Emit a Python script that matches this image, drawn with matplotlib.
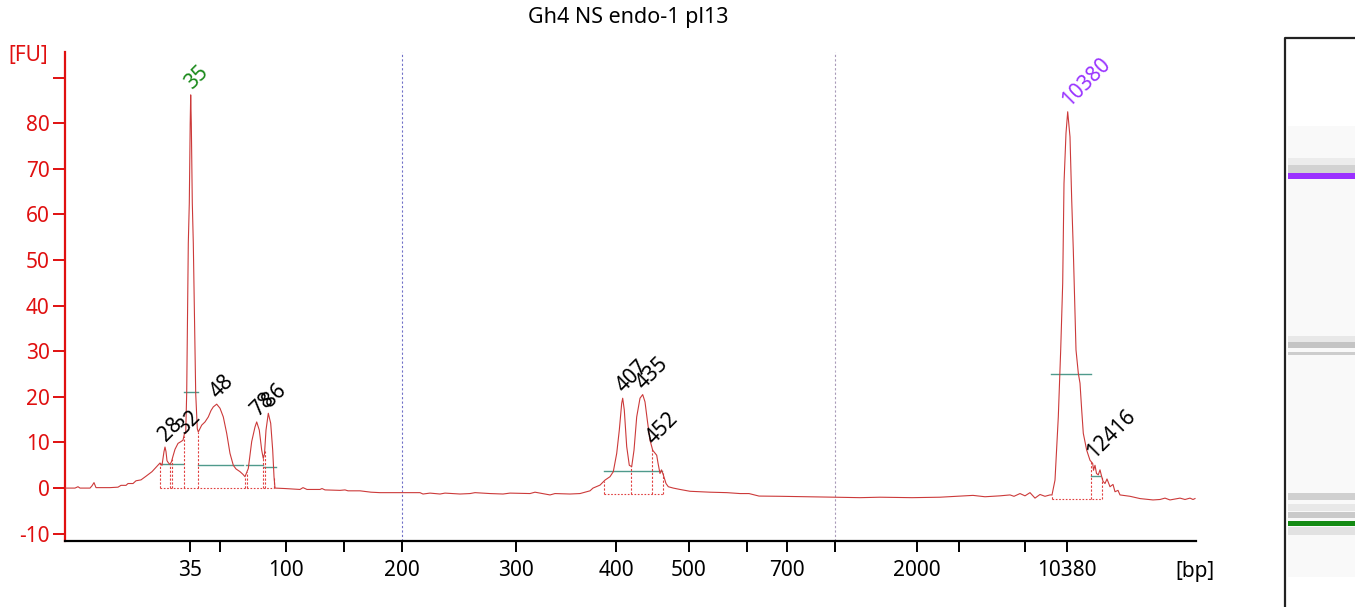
import numpy as np
import matplotlib
matplotlib.use("Agg")
import matplotlib.pyplot as plt

plt.rcParams["font.family"] = ["Noto Sans", "DejaVu Sans"]

TITLE = "Gh4 NS endo-1 pl13"

# migration position (run units) and fluorescence [FU]
mig = [65, 75, 78, 80, 90, 92, 94, 96, 110, 118, 121, 126, 128, 133, 136, 141, 146, 152, 157,
       160, 162, 164, 165, 166, 167, 168.5, 170, 171.5, 173, 175, 178, 181, 183, 184.5,
       185.7, 186.7, 188.3, 189.3, 190.2, 190.7, 191.3, 192.3, 193.3, 195.7, 197.3,
       198.3, 201.7, 205, 208.3, 211, 213.3, 216.7, 220, 223.3, 226.7, 230, 233.3, 236, 240,
       243, 245, 248.3, 251.7, 255, 256.7, 259.3, 261.7, 263.3, 264.5, 266, 268.3, 270.7,
       272.7, 274, 275, 285, 300, 303, 307, 320, 322, 325, 340, 345, 348, 360, 371, 380,
       402, 420, 423, 430, 440, 445, 460, 470, 475, 490, 503, 510, 530, 535, 545, 550, 555,
       570, 580, 590, 593, 600, 605, 610, 613.3, 616.7, 619.3, 621.7, 622.7, 624.3, 626.7,
       629.3, 631.7, 634, 636.7, 640, 642.7, 645, 647.3, 650, 652.7, 656.7, 658, 660, 661.5,
       663.3, 666, 668.3, 673.3, 680, 690, 700, 710, 727, 740, 749, 759, 780, 810, 835, 860,
       880, 912, 940, 973, 985, 1000, 1010, 1014, 1020, 1025, 1030, 1035, 1040, 1045, 1050,
       1052, 1055, 1058.3, 1060.7, 1062.7, 1064, 1066, 1067.7, 1070, 1071.7, 1073.3, 1076,
       1078.3, 1080, 1081.7, 1083.3, 1086.7, 1090, 1092.7, 1093.5, 1095, 1096.5, 1098.3,
       1100, 1101.7, 1103, 1105, 1107, 1110, 1113, 1115, 1118, 1120, 1130, 1140, 1153, 1160,
       1165, 1170, 1175, 1180, 1185, 1190, 1193, 1195]
fu = [0.0, 0.0, 0.3, 0.0, 0.0, 0.5, 1.2, 0.1, 0.1, 0.2, 0.6, 0.6, 1.0, 1.0, 1.6, 1.8, 2.6, 3.6, 4.8,
      5.5, 5.0, 8.0, 9.0, 8.0, 6.0, 5.5, 5.2, 5.8, 7.0, 8.5, 9.8, 10.2, 10.5, 12.0,
      12.0, 20.8, 53.7, 62.5, 80.0, 86.2, 80.0, 62.5, 53.7, 20.8, 13.0,
      12.3, 13.8, 14.5, 15.6, 17.0, 17.8, 18.4, 17.5, 15.6, 12.0, 7.6, 5.0, 4.2, 3.6,
      3.0, 2.5, 4.3, 10.2, 13.4, 14.5, 12.7, 8.3, 6.5, 7.5, 12.7, 16.4, 14.2,
      8.3, 2.5, 0.0, -0.1, -0.3, 0.1, -0.3, -0.3, -0.1, -0.4, -0.5, -0.4, -0.6, -0.6, -0.9, -1.0,
      -1.0, -1.0, -1.3, -1.1, -1.3, -1.1, -1.3, -1.2, -1.0, -1.2, -1.3, -1.1, -1.2, -0.9, -1.3, -1.5, -1.2,
      -1.3, -1.2, -0.6, 0.0, 0.65, 1.75, 2.5, 3.6, 7.6, 12.7, 18.6, 19.7, 17.1, 9.1,
      5.0, 4.7, 8.3, 15.6, 19.7, 20.5, 18.9, 14.9, 10.5, 8.3, 7.2, 5.5, 3.2, 4.0,
      2.9, 1.0, 0.3, 0.0, -0.3, -0.7, -0.8, -0.9, -1.0, -1.2, -1.2, -1.75, -1.8, -1.9, -2.0, -2.1,
      -2.0, -2.1, -2.0, -1.6, -1.9, -1.7, -1.5, -1.8, -1.2, -1.7, -1.0, -2.2, -1.4, -1.8, -1.5,
      -1.5, 1.75, 15.6, 30.3, 44.9, 66.8, 77.8, 82.5, 77.0, 63.2, 52.2, 30.3,
      25.2, 23.0, 17.1, 12.0, 8.3, 6.1, 5.4, 3.9, 5.0, 3.2, 2.9,
      4.0, 2.5, 1.5, 1.0, 2.0, 0.3, 0.8, -0.8, -0.5, -1.5, -1.8, -2.3, -2.6, -2.5,
      -2.2, -2.6, -2.4, -2.2, -2.5, -2.2, -2.5, -2.3]

# called peaks: label, position, height, colour
peak_labels = ["28", "32", "35", "48", "78", "86", "407", "435", "452", "10380", "12416"]
peak_mig = [165, 183, 190.7, 216.7, 256.7, 268.3, 622.7, 642.7, 652.7, 1067.7, 1092.7]
peak_fu = [9.0, 10.5, 86.2, 18.4, 14.5, 16.4, 19.7, 20.5, 8.3, 82.5, 5.4]
peak_colors = ["black", "black", "#1a8a1a", "black", "black", "black",
               "black", "black", "black", "#9933ff", "black"]

# peak width markers (green) : start, end, level
width_start = [160, 184, 198, 246, 264, 604, 1051, 1091]
width_end = [183, 198, 243, 263, 276, 662, 1091, 1100]
width_level = [5.2, 21.0, 5.0, 5.0, 4.7, 3.8, 25.0, 2.6]

# integration regions: boundary positions and baseline level
region_bounds = [[160, 170, 172.3, 184, 198.3, 245, 246.7, 262.7, 264.7, 274],
                 [604, 630.7, 652.3, 662.7],
                 [1051.7, 1091, 1101.7]]
region_base = [0.0, -1.3, -2.3]

# ladder ticks on the size axis
tick_mig = [190, 220, 286, 344, 402, 516, 616, 689, 747, 787, 835, 917, 959, 1025, 1067]
tick_lbl = ["35", "", "100", "", "200", "300", "400", "500", "", "700", "", "2000", "", "", "10380"]
marker_lines = [402, 835]

# gel lane bands: top, bottom (gel px) and colour
band_top = [158, 165, 173, 336, 342, 352, 493, 504, 512, 521, 527]
band_bot = [165, 173, 179, 342, 348, 355, 500, 511, 518, 526, 535]
band_col = ["#ececec", "#d2d2d2", "#9b30ff", "#e8e8e8", "#c4c4c4", "#cdcdcd",
            "#d0d0d0", "#e8e8e8", "#cacaca", "#138a13", "#e2e2e2"]

W, H = 1355, 607
fig = plt.figure(figsize=(W / 100, H / 100), dpi=100)
ax = fig.add_axes([65 / W, 1 - 541 / H, (1196 - 65) / W, (541 - 52) / H])

red = "#e01010"
ax.plot(mig, fu, color="#cc3a3a", lw=0.8, zorder=3)

for x0, x1, lv in zip(width_start, width_end, width_level):
    ax.plot([x0, x1], [lv, lv], color="#4f9a8c", lw=1.0, zorder=2)

for bounds, base in zip(region_bounds, region_base):
    ax.plot([bounds[0], bounds[-1]], [base, base], color="#e04040", lw=0.8, ls=(0, (1.5, 1.5)), zorder=2)
    for b in bounds:
        top = np.interp(b, mig, fu)
        ax.plot([b, b], [base, top], color="#e04040", lw=0.8, ls=(0, (2, 1.5)), zorder=2)

for m, c in zip(marker_lines, ["#7070c8", "#a89ab8"]):
    ax.axvline(m, color=c, lw=0.8, ls=(0, (2, 2)), zorder=1)

for lbl, x, y, c in zip(peak_labels, peak_mig, peak_fu, peak_colors):
    ax.annotate(lbl, (x, y), xytext=(3.5, 1), textcoords="offset points", rotation=45,
                rotation_mode="anchor", ha="left", va="bottom", fontsize=15, color=c, zorder=4)

ax.set_xlim(65, 1196)
ax.set_ylim(-11.6, 95.6)
ax.set_yticks(range(-10, 100, 10))
ax.set_yticklabels([str(v) if v < 90 else "" for v in range(-10, 100, 10)])
ax.set_xticks(tick_mig)
ax.set_xticklabels(tick_lbl)
ax.tick_params(axis="y", colors=red, labelsize=15, length=9, width=1.4, pad=2)
ax.tick_params(axis="x", colors="black", labelsize=15, length=8, width=1.4, pad=6)
ax.spines["top"].set_visible(False)
ax.spines["right"].set_visible(False)
ax.spines["left"].set_color(red)
ax.spines["left"].set_linewidth(1.6)
ax.spines["bottom"].set_linewidth(1.6)

fig.text(628 / W, 1 - 18 / H, TITLE, ha="center", va="center", fontsize=15.5)
fig.text(28 / W, 1 - 55 / H, "[FU]", ha="center", va="center", fontsize=15, color=red)
fig.text(1195 / W, 1 - 572 / H, "[bp]", ha="center", va="center", fontsize=15)

# gel lane
gx = fig.add_axes([1284 / W, 0, (W - 1284) / W, (H - 37) / H])
gx.set_xlim(1284, W)
gx.set_ylim(H, 37)
gx.axis("off")
gx.fill_between([1288, W], 126, 577, color="#f9f9f9", lw=0)
for t, b, c in zip(band_top, band_bot, band_col):
    gx.fill_between([1288, W], t, b, color=c, lw=0)
gx.plot([1285, 1285, W], [H, 38, 38], color="#222222", lw=1.6, clip_on=False)

fig.savefig("out.png", dpi=100)
